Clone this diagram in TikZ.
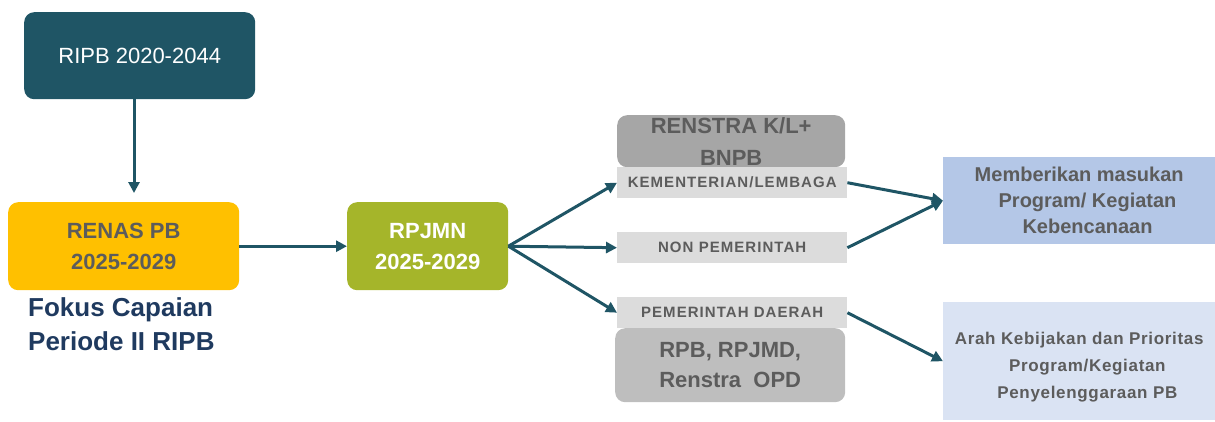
\documentclass[tikz,border=0pt]{standalone}
\usepackage{fontspec}
\setmainfont{Liberation Sans}
\usetikzlibrary{arrows.meta,positioning}
\definecolor{ripbteal}{HTML}{1F5565}
\definecolor{renasgold}{HTML}{FFC000}
\definecolor{rpjmngreen}{HTML}{A5B52A}
\definecolor{txtgray}{HTML}{5C5C5C}
\definecolor{fokusnavy}{HTML}{1F3A5F}
\definecolor{graydark}{HTML}{A6A6A6}
\definecolor{graylight}{HTML}{BEBEBE}
\definecolor{stripgray}{HTML}{DCDCDC}
\definecolor{bluemid}{HTML}{B4C7E7}
\definecolor{bluepale}{HTML}{DAE3F3}
\begin{document}
\begin{tikzpicture}[x=1pt,y=-1pt,
  base/.style={rounded corners=10pt,align=center,inner sep=0pt,anchor=north west},
  big/.style={font=\fontsize{22}{31}\selectfont\bfseries,text=txtgray},
  stripbox/.style={base,rounded corners=0pt,fill=stripgray,minimum width=230pt,minimum height=31pt,
    font=\fontsize{15}{16}\selectfont\bfseries\addfontfeatures{LetterSpace=7},text=txtgray},
  outbox/.style={base,rounded corners=0pt,minimum width=272pt,text=txtgray},
  arr/.style={-{Triangle[length=11pt,width=11pt]},line width=3pt,draw=ripbteal}]
\useasboundingbox (0,0) rectangle (1215,421);
\node[base,fill=ripbteal,minimum width=231pt,minimum height=87pt,text=white,
  font=\fontsize{22}{26}\selectfont] (ripb) at (24,12) {RIPB 2020-2044};
\node[base,big,fill=renasgold,minimum width=231pt,minimum height=88pt] (renas) at (8,202) {RENAS PB\\2025-2029};
\node[anchor=north west,align=left,inner sep=0pt,text=fokusnavy,
  font=\fontsize{26}{34}\selectfont\bfseries] (fokus) at (28,297) {Fokus Capaian\\Periode II RIPB};
\node[base,big,fill=rpjmngreen,text=white,minimum width=161pt,minimum height=88pt] (rpjmn) at (347,202) {RPJMN\\2025-2029};
\node[base,big,fill=graydark,minimum width=228pt,minimum height=52pt,
  font=\fontsize{22}{32}\selectfont\bfseries] (renstra) at (617,115) {RENSTRA K/L+\\BNPB};
\node[stripbox] (kl) at (617,167) {KEMENTERIAN/LEMBAGA};
\node[stripbox] (nonpem) at (617,232) {NON PEMERINTAH};
\node[stripbox] (pemda) at (617,297) {PEMERINTAH DAERAH};
\node[base,big,fill=graylight,minimum width=230pt,minimum height=74pt,
  font=\fontsize{22}{30}\selectfont\bfseries] (rpb) at (615,328) {RPB, RPJMD,\\Renstra\ \ OPD};
\node[outbox,fill=bluemid,minimum height=87pt,font=\fontsize{20}{26}\selectfont\bfseries] (masukan) at (943,157)
  {Memberikan masukan\\\ \ \ Program/ Kegiatan\\\ \ \ Kebencanaan};
\node[outbox,fill=bluepale,minimum height=118pt,
  font=\fontsize{17}{27}\selectfont\bfseries\addfontfeatures{LetterSpace=4}] (arah) at (943,302)
  {\\[-2pt]Arah Kebijakan dan Prioritas\\\ \ \ Program/Kegiatan\\\ \ \ Penyelenggaraan PB};
\draw[arr] (ripb.south -| 134,0) -- (134,193) coordinate (renastop);
\draw[arr] (renas.east) -- (rpjmn.west);
\draw[arr] (rpjmn.east) -- (kl.west);
\draw[arr] (rpjmn.east) -- (nonpem.west);
\draw[arr] (rpjmn.east) -- (pemda.west);
\draw[arr] (kl.east) -- (masukan.west);
\draw[arr] (nonpem.east) -- (masukan.west);
\draw[arr] (pemda.east) -- (arah.west);
\end{tikzpicture}
\end{document}
